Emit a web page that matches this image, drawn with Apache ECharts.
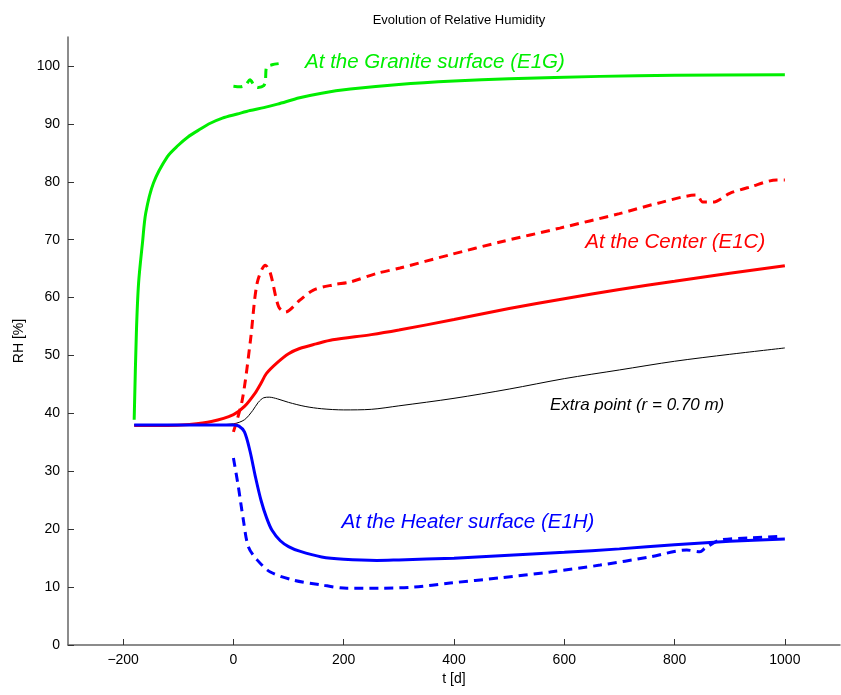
<!DOCTYPE html>
<html>
<head>
<meta charset="utf-8">
<script src="https://cdn.jsdelivr.net/npm/echarts@6/dist/echarts.min.js"></script>
<style>
html,body{margin:0;padding:0;background:#fff;}
#main{width:841px;height:695px;}
</style>
</head>
<body>
<div id="main"></div>
<script>
// data: [t (d), RH (%)]
var granite = [[-180,38.9],[-176,53.9],[-172,62.5],[-165,69.4],[-159,74.6],[-145,79.8],[-120,84.3],[-100,86.3],[-83,87.7],[-60,89.1],[-42,90.1],[-20,91],[7,91.7],[30,92.3],[55,92.8],[80,93.4],[120,94.5],[160,95.3],[212,96],[300,96.8],[400,97.4],[500,97.8],[665,98.2],[800,98.4],[1000,98.5]];
var graniteMeas = [[0,96.5],[12,96.4],[22,96.7],[30,97.6],[38,96.6],[45,96.3],[55,96.6],[58,97.5],[60,99.8],[70,100.2],[82,100.4]];
var center = [[-180,37.9],[-120,37.9],[-80,38.1],[-40,38.6],[0,39.8],[20,41.2],[40,43.6],[50,45.2],[60,46.9],[80,48.8],[100,50.3],[120,51.2],[150,52],[180,52.7],[250,53.6],[300,54.4],[400,56.2],[500,58.1],[600,59.8],[700,61.4],[800,62.8],[900,64.2],[1000,65.5]];
var centerMeas = [[0,36.8],[16,42.3],[31,52.7],[43,62.5],[58,65.6],[67,64.2],[82,58.4],[94,57.5],[121,59.6],[145,61.3],[181,62.2],[212,62.7],[261,64.2],[302,65.1],[393,67.4],[484,69.6],[592,72],[700,74.5],[770,76.3],[840,77.7],[851,76.5],[870,76.5],[900,78],[937,79.1],[985,80.3],[1000,80.3]];
var extra = [[-180,38],[-100,38],[-50,38],[0,38.2],[20,38.9],[35,40.5],[45,41.9],[55,42.7],[65,42.8],[80,42.5],[100,41.9],[130,41.2],[160,40.8],[200,40.6],[250,40.7],[300,41.3],[400,42.6],[500,44.2],[600,46],[700,47.5],[800,49],[900,50.2],[1000,51.3]];
var heater = [[-180,38],[-100,38],[0,38],[10,37.8],[20,36.8],[30,33.5],[40,29],[50,25],[60,22],[70,19.8],[85,18],[100,17],[120,16.2],[160,15.2],[200,14.8],[260,14.6],[300,14.7],[400,15],[500,15.5],[600,16],[700,16.6],[800,17.3],[900,17.9],[1000,18.3]];
var heaterMeas = [[0,32.3],[9,27.3],[18,21.6],[27,17],[43,14.7],[67,12.6],[109,11.2],[158,10.4],[206,9.8],[266,9.8],[327,10],[393,10.7],[484,11.6],[574,12.6],[665,13.8],[755,15.2],[822,16.4],[846,16.1],[855,16.7],[882,18.1],[940,18.5],[996,18.8]];

var xTicks = [-200, 0, 200, 400, 600, 800, 1000];
var yTicks = [0, 10, 20, 30, 40, 50, 60, 70, 80, 90, 100];

// annotations: text, colour, anchor [t, RH], font size
var notes = [
    ['At the Granite surface (E1G)', '#00ee00', [130, 100.7], 20.5],
    ['At the Center (E1C)', '#ff0000', [638, 69.6], 20.5],
    ['Extra point (r = 0.70 m)', '#000000', [574, 41.4], 17],
    ['At the Heater surface (E1H)', '#0000ff', [196, 21.2], 20.5]
];

var chart = echarts.init(document.getElementById('main'));
var font = 'Liberation Sans, Arial, sans-serif';

function line(data, color, width, dashed) {
    return {
        type: 'line',
        data: data,
        showSymbol: false,
        smooth: 0.3,
        silent: true,
        animation: false,
        lineStyle: { color: color, width: width, type: dashed ? [9, 6] : 'solid' }
    };
}

var option = {
    animation: false,
    title: {
        text: 'Evolution of Relative Humidity',
        left: 454, top: 9, textAlign: 'center',
        textStyle: { fontFamily: font, fontSize: 13, fontWeight: 'normal', color: '#000' }
    },
    grid: { left: 68, right: 1, top: 37, bottom: 50 },
    xAxis: {
        type: 'value', min: -300, max: 1100, interval: 100,
        name: 't [d]', nameLocation: 'middle', nameGap: 27,
        nameTextStyle: { fontFamily: font, fontSize: 14, color: '#000' },
        axisLine: { onZero: false, lineStyle: { color: '#666', width: 1.5 } },
        axisTick: {
            inside: true, length: 6, lineStyle: { color: '#333' },
            customValues: xTicks
        },
        axisLabel: {
            fontFamily: font, fontSize: 14, color: '#000', margin: 8,
            customValues: xTicks,
            formatter: function (v) { return v < 0 ? '\u2212' + (-v) : String(v); }
        },
        splitLine: { show: false }
    },
    yAxis: {
        type: 'value', min: 0, max: 105, interval: 5,
        name: 'RH [%]', nameLocation: 'middle', nameGap: 42,
        nameTextStyle: { fontFamily: font, fontSize: 14, color: '#000' },
        axisLine: { show: true, onZero: false, lineStyle: { color: '#666', width: 1.5 } },
        axisTick: {
            show: true, inside: true, length: 6, lineStyle: { color: '#333' },
            customValues: yTicks
        },
        axisLabel: {
            fontFamily: font, fontSize: 14, color: '#000', margin: 8,
            customValues: yTicks
        },
        splitLine: { show: false }
    },
    series: [
        line(extra, '#000000', 1, false),
        line(granite, '#00ee00', 3, false),
        line(graniteMeas, '#00ee00', 3, true),
        line(centerMeas, '#ff0000', 3, true),
        line(center, '#ff0000', 3, false),
        line(heaterMeas, '#0000ff', 3, true),
        line(heater, '#0000ff', 3, false)
    ]
};
chart.setOption(option);

// place the annotations through the chart's own scales
var graphics = notes.map(function (n) {
    var p = chart.convertToPixel({ gridIndex: 0 }, n[2]);
    return {
        type: 'text', x: p[0], y: p[1],
        style: {
            text: n[0], fill: n[1], fontFamily: font, fontStyle: 'italic',
            fontSize: n[3], verticalAlign: 'middle', textAlign: 'left'
        }
    };
});
chart.setOption({ graphic: graphics });
</script>
</body>
</html>
